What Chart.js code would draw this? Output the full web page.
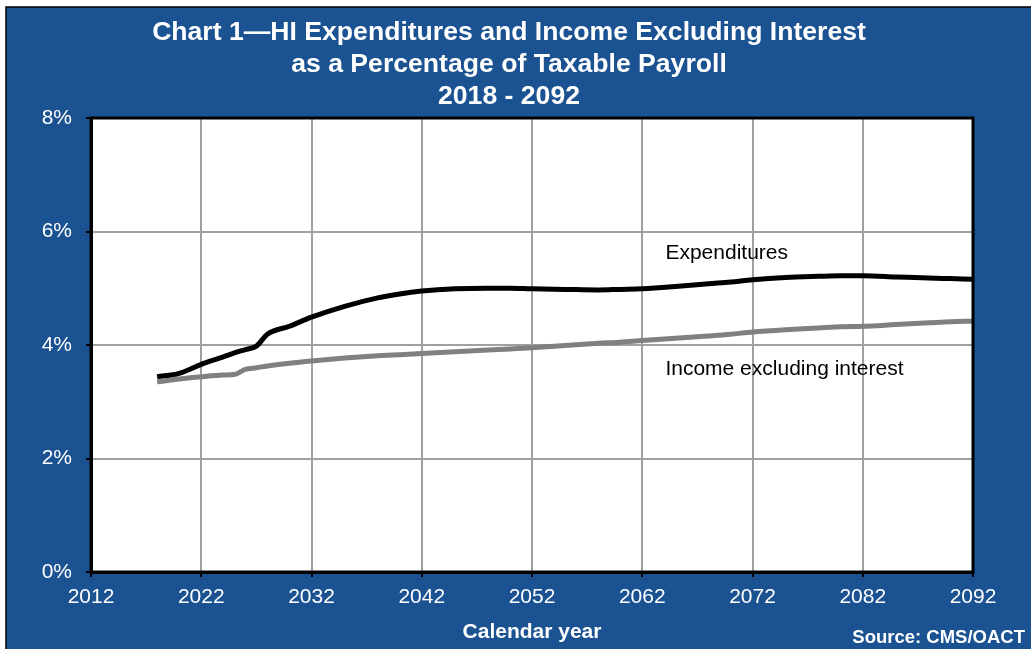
<html>
<head>
<script src="https://cdn.jsdelivr.net/npm/chart.js@4"></script>
<style>
  body { margin: 0; background: #fff; }
  #wrap { width: 1031px; height: 649px; }
</style>
</head>
<body>
<div id="wrap"><canvas id="myChart"></canvas></div>
<script>
const years = [2018, 2020, 2022, 2024, 2025, 2026, 2027, 2028, 2030, 2032, 2035, 2038, 2040, 2042, 2045,
  2048, 2050, 2052, 2055, 2058, 2060, 2062, 2065, 2068, 2070, 2072, 2075, 2078, 2080, 2082, 2085, 2088, 2090, 2092];
const expenditures = [3.44, 3.50, 3.66, 3.79, 3.86, 3.92, 3.98, 4.19, 4.33, 4.49, 4.68, 4.83, 4.90, 4.95, 4.99,
  5.00, 5.00, 4.99, 4.98, 4.97, 4.98, 4.99, 5.03, 5.08, 5.11, 5.15, 5.19, 5.21, 5.22, 5.22, 5.20, 5.18, 5.17, 5.16];
const income = [3.35, 3.40, 3.44, 3.47, 3.48, 3.57, 3.60, 3.63, 3.68, 3.72, 3.77, 3.81, 3.83, 3.85, 3.88,
  3.91, 3.93, 3.95, 3.99, 4.03, 4.05, 4.08, 4.12, 4.16, 4.19, 4.23, 4.27, 4.30, 4.32, 4.33, 4.36, 4.39, 4.41, 4.42];
const titleLines = ['Chart 1\u2014HI Expenditures and Income Excluding Interest', 'as a Percentage of Taxable Payroll', '2018 - 2092'];
const seriesLabels = ['Expenditures', 'Income excluding interest'];

const BLUE = '#1a5292';
const FONT = '"Liberation Sans", Arial, sans-serif';

function pts(vals) {
  return years.map((y, i) => ({ x: y, y: vals[i] }));
}

// blue panel with thin black frame, white plot area, title and notes
const backdrop = {
  id: 'backdrop',
  beforeDraw(chart) {
    const c = chart.ctx, a = chart.chartArea;
    c.save();
    c.fillStyle = '#fff';
    c.fillRect(0, 0, chart.width, chart.height);
    c.fillStyle = BLUE;
    c.fillRect(6, 7, chart.width - 6, chart.height - 7);
    c.strokeStyle = '#000';
    c.lineWidth = 1.5;
    c.beginPath();
    c.moveTo(6, chart.height); c.lineTo(6, 7); c.lineTo(chart.width, 7);
    c.stroke();
    c.fillStyle = '#fff';
    c.fillRect(a.left, a.top, a.right - a.left, a.bottom - a.top);
    c.font = 'bold 26.6px ' + FONT;
    c.textAlign = 'center';
    c.textBaseline = 'middle';
    titleLines.forEach((t, i) => c.fillText(t, 509, 33 + i * 32));
    c.restore();
  },
  afterDatasetsDraw(chart) {
    const c = chart.ctx, a = chart.chartArea;
    const xs = chart.scales.x, ys = chart.scales.y;
    c.save();
    c.strokeStyle = '#000';
    c.lineWidth = 3;
    c.strokeRect(a.left, a.top, a.right - a.left, a.bottom - a.top);
    c.fillStyle = '#000';
    c.font = '21px ' + FONT;
    c.textBaseline = 'middle';
    c.fillText(seriesLabels[0], xs.getPixelForValue(2064.1), ys.getPixelForValue(5.62));
    c.fillText(seriesLabels[1], xs.getPixelForValue(2064.1), ys.getPixelForValue(3.58));
    c.fillStyle = '#fff';
    c.font = 'bold 18.5px ' + FONT;
    c.textAlign = 'right';
    c.fillText('Source: CMS/OACT', 1025, 638);
    c.restore();
  }
};

const config = {
  type: 'line',
  data: {
    datasets: [
      { label: seriesLabels[0], data: pts(expenditures), borderColor: '#000', borderWidth: 5,
        pointRadius: 0, cubicInterpolationMode: 'monotone' },
      { label: seriesLabels[1], data: pts(income), borderColor: '#808080', borderWidth: 5,
        pointRadius: 0, cubicInterpolationMode: 'monotone' }
    ]
  },
  options: {
    responsive: true,
    maintainAspectRatio: false,
    animation: false,
    layout: { padding: { left: 6, right: 58, top: 118, bottom: 0 } },
    plugins: {
      legend: { display: false },
      tooltip: { enabled: false },
      title: { display: false }
    },
    scales: {
      x: {
        type: 'linear', min: 2012, max: 2092,
        afterFit(s) { s.height = 77; },
        ticks: { stepSize: 10, color: '#fff', font: { family: FONT, size: 21 }, padding: 8,
          maxRotation: 0, callback: v => String(v) },
        grid: { color: '#a0a0a0', lineWidth: 2, tickColor: '#000', tickLength: 5, tickWidth: 2 },
        border: { color: '#000', width: 3 },
        title: { display: true, text: 'Calendar year', color: '#fff',
          font: { family: FONT, size: 21, weight: 'bold' }, padding: { top: 2 } }
      },
      y: {
        min: 0, max: 8,
        afterFit(s) { s.width = 85; },
        ticks: { stepSize: 2, color: '#fff', font: { family: FONT, size: 21 }, padding: 14,
          callback: v => v + '%' },
        grid: { color: '#a0a0a0', lineWidth: 2, tickColor: '#000', tickLength: 5, tickWidth: 2 },
        border: { color: '#000', width: 3 }
      }
    }
  },
  plugins: [backdrop]
};

var ctx = document.getElementById('myChart');
var myChart = new Chart(ctx, config);
</script>
</body>
</html>
